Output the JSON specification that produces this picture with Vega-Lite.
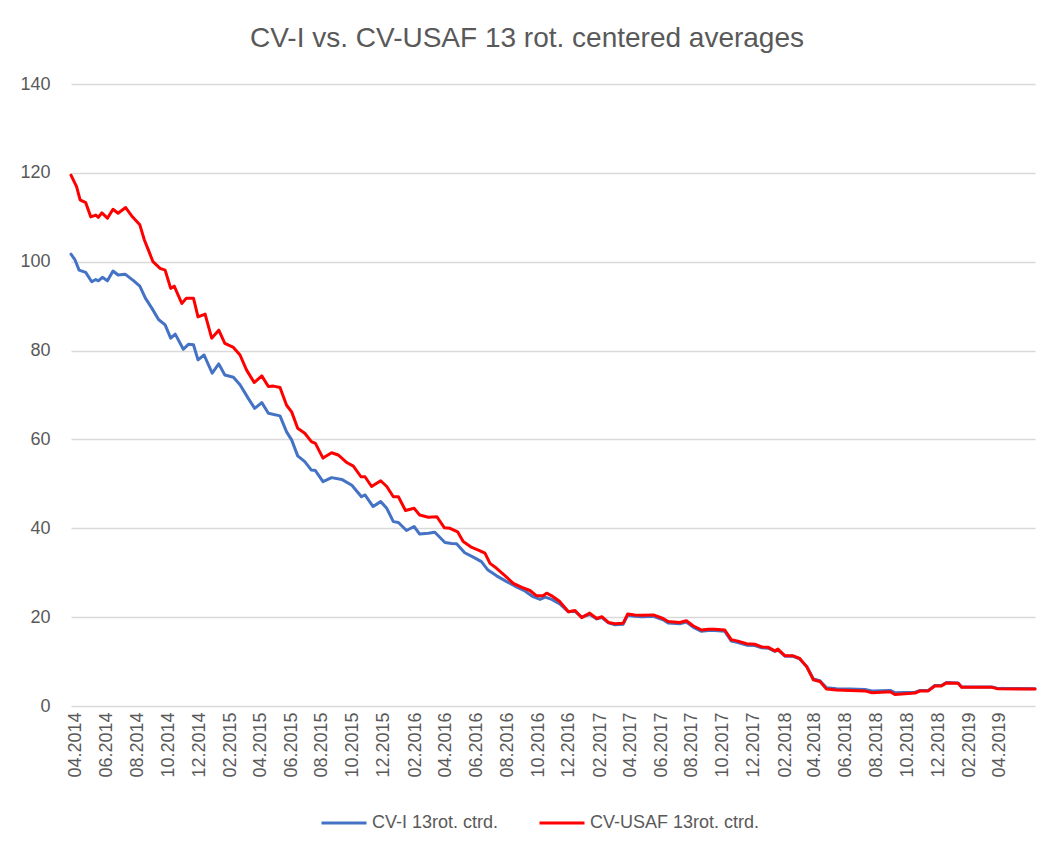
{
  "$schema": "https://vega.github.io/schema/vega-lite/v6.json",
  "width": 964,
  "height": 622,
  "autosize": {"type": "none"},
  "padding": {"left": 71, "top": 84, "right": 14, "bottom": 143},
  "background": "white",
  "title": {
    "text": "CV-I vs. CV-USAF 13 rot. centered averages",
    "font": "Liberation Sans",
    "fontSize": 28,
    "fontWeight": "normal",
    "color": "#595959",
    "anchor": "middle",
    "frame": "group",
    "baseline": "alphabetic",
    "offset": 0,
    "dx": -26
  },
  "config": {
    "view": {"stroke": null},
    "font": "Liberation Sans"
  },
  "data": {
    "values": [
      {"date": "2014-03-23", "series": "CV-I 13rot. ctrd.", "value": 101.7},
      {"date": "2014-03-31", "series": "CV-I 13rot. ctrd.", "value": 100.4},
      {"date": "2014-04-08", "series": "CV-I 13rot. ctrd.", "value": 98.1},
      {"date": "2014-04-21", "series": "CV-I 13rot. ctrd.", "value": 97.6},
      {"date": "2014-05-03", "series": "CV-I 13rot. ctrd.", "value": 95.5},
      {"date": "2014-05-11", "series": "CV-I 13rot. ctrd.", "value": 96.0},
      {"date": "2014-05-16", "series": "CV-I 13rot. ctrd.", "value": 95.7},
      {"date": "2014-05-24", "series": "CV-I 13rot. ctrd.", "value": 96.5},
      {"date": "2014-06-03", "series": "CV-I 13rot. ctrd.", "value": 95.7},
      {"date": "2014-06-14", "series": "CV-I 13rot. ctrd.", "value": 97.9},
      {"date": "2014-06-24", "series": "CV-I 13rot. ctrd.", "value": 97.0},
      {"date": "2014-07-08", "series": "CV-I 13rot. ctrd.", "value": 97.2},
      {"date": "2014-07-25", "series": "CV-I 13rot. ctrd.", "value": 95.7},
      {"date": "2014-08-06", "series": "CV-I 13rot. ctrd.", "value": 94.5},
      {"date": "2014-08-17", "series": "CV-I 13rot. ctrd.", "value": 91.8},
      {"date": "2014-08-30", "series": "CV-I 13rot. ctrd.", "value": 89.5},
      {"date": "2014-09-12", "series": "CV-I 13rot. ctrd.", "value": 87.0},
      {"date": "2014-09-25", "series": "CV-I 13rot. ctrd.", "value": 85.8},
      {"date": "2014-10-06", "series": "CV-I 13rot. ctrd.", "value": 82.8},
      {"date": "2014-10-15", "series": "CV-I 13rot. ctrd.", "value": 83.7},
      {"date": "2014-10-31", "series": "CV-I 13rot. ctrd.", "value": 80.3},
      {"date": "2014-11-10", "series": "CV-I 13rot. ctrd.", "value": 81.4},
      {"date": "2014-11-20", "series": "CV-I 13rot. ctrd.", "value": 81.3},
      {"date": "2014-11-29", "series": "CV-I 13rot. ctrd.", "value": 77.9},
      {"date": "2014-12-11", "series": "CV-I 13rot. ctrd.", "value": 79.0},
      {"date": "2014-12-27", "series": "CV-I 13rot. ctrd.", "value": 74.9},
      {"date": "2015-01-09", "series": "CV-I 13rot. ctrd.", "value": 77.0},
      {"date": "2015-01-21", "series": "CV-I 13rot. ctrd.", "value": 74.5},
      {"date": "2015-02-07", "series": "CV-I 13rot. ctrd.", "value": 74.0},
      {"date": "2015-02-20", "series": "CV-I 13rot. ctrd.", "value": 72.3},
      {"date": "2015-03-08", "series": "CV-I 13rot. ctrd.", "value": 69.3},
      {"date": "2015-03-21", "series": "CV-I 13rot. ctrd.", "value": 67.0},
      {"date": "2015-04-04", "series": "CV-I 13rot. ctrd.", "value": 68.3},
      {"date": "2015-04-17", "series": "CV-I 13rot. ctrd.", "value": 65.9},
      {"date": "2015-05-10", "series": "CV-I 13rot. ctrd.", "value": 65.3},
      {"date": "2015-05-23", "series": "CV-I 13rot. ctrd.", "value": 61.7},
      {"date": "2015-06-02", "series": "CV-I 13rot. ctrd.", "value": 59.9},
      {"date": "2015-06-14", "series": "CV-I 13rot. ctrd.", "value": 56.3},
      {"date": "2015-06-28", "series": "CV-I 13rot. ctrd.", "value": 55.0},
      {"date": "2015-07-11", "series": "CV-I 13rot. ctrd.", "value": 53.1},
      {"date": "2015-07-19", "series": "CV-I 13rot. ctrd.", "value": 53.0},
      {"date": "2015-08-03", "series": "CV-I 13rot. ctrd.", "value": 50.5},
      {"date": "2015-08-20", "series": "CV-I 13rot. ctrd.", "value": 51.4},
      {"date": "2015-09-09", "series": "CV-I 13rot. ctrd.", "value": 51.0},
      {"date": "2015-09-29", "series": "CV-I 13rot. ctrd.", "value": 49.7},
      {"date": "2015-10-18", "series": "CV-I 13rot. ctrd.", "value": 47.1},
      {"date": "2015-10-25", "series": "CV-I 13rot. ctrd.", "value": 47.5},
      {"date": "2015-11-10", "series": "CV-I 13rot. ctrd.", "value": 44.9},
      {"date": "2015-11-25", "series": "CV-I 13rot. ctrd.", "value": 46.0},
      {"date": "2015-12-07", "series": "CV-I 13rot. ctrd.", "value": 44.5},
      {"date": "2015-12-20", "series": "CV-I 13rot. ctrd.", "value": 41.5},
      {"date": "2015-12-30", "series": "CV-I 13rot. ctrd.", "value": 41.3},
      {"date": "2016-01-15", "series": "CV-I 13rot. ctrd.", "value": 39.5},
      {"date": "2016-01-30", "series": "CV-I 13rot. ctrd.", "value": 40.4},
      {"date": "2016-02-10", "series": "CV-I 13rot. ctrd.", "value": 38.7},
      {"date": "2016-02-27", "series": "CV-I 13rot. ctrd.", "value": 38.9},
      {"date": "2016-03-11", "series": "CV-I 13rot. ctrd.", "value": 39.1},
      {"date": "2016-03-31", "series": "CV-I 13rot. ctrd.", "value": 36.8},
      {"date": "2016-04-13", "series": "CV-I 13rot. ctrd.", "value": 36.6},
      {"date": "2016-04-23", "series": "CV-I 13rot. ctrd.", "value": 36.5},
      {"date": "2016-05-09", "series": "CV-I 13rot. ctrd.", "value": 34.5},
      {"date": "2016-05-26", "series": "CV-I 13rot. ctrd.", "value": 33.5},
      {"date": "2016-06-11", "series": "CV-I 13rot. ctrd.", "value": 32.5},
      {"date": "2016-06-24", "series": "CV-I 13rot. ctrd.", "value": 30.6},
      {"date": "2016-07-11", "series": "CV-I 13rot. ctrd.", "value": 29.3},
      {"date": "2016-07-31", "series": "CV-I 13rot. ctrd.", "value": 28.0},
      {"date": "2016-08-16", "series": "CV-I 13rot. ctrd.", "value": 27.0},
      {"date": "2016-09-05", "series": "CV-I 13rot. ctrd.", "value": 25.9},
      {"date": "2016-09-21", "series": "CV-I 13rot. ctrd.", "value": 24.6},
      {"date": "2016-10-05", "series": "CV-I 13rot. ctrd.", "value": 24.0},
      {"date": "2016-10-15", "series": "CV-I 13rot. ctrd.", "value": 24.5},
      {"date": "2016-10-28", "series": "CV-I 13rot. ctrd.", "value": 24.0},
      {"date": "2016-11-13", "series": "CV-I 13rot. ctrd.", "value": 23.0},
      {"date": "2016-11-30", "series": "CV-I 13rot. ctrd.", "value": 21.2},
      {"date": "2016-12-13", "series": "CV-I 13rot. ctrd.", "value": 21.3},
      {"date": "2016-12-26", "series": "CV-I 13rot. ctrd.", "value": 20.0},
      {"date": "2017-01-11", "series": "CV-I 13rot. ctrd.", "value": 20.6},
      {"date": "2017-01-25", "series": "CV-I 13rot. ctrd.", "value": 19.6},
      {"date": "2017-02-04", "series": "CV-I 13rot. ctrd.", "value": 19.9},
      {"date": "2017-02-17", "series": "CV-I 13rot. ctrd.", "value": 18.7},
      {"date": "2017-03-02", "series": "CV-I 13rot. ctrd.", "value": 18.3},
      {"date": "2017-03-18", "series": "CV-I 13rot. ctrd.", "value": 18.4},
      {"date": "2017-03-27", "series": "CV-I 13rot. ctrd.", "value": 20.4},
      {"date": "2017-04-10", "series": "CV-I 13rot. ctrd.", "value": 20.2},
      {"date": "2017-04-24", "series": "CV-I 13rot. ctrd.", "value": 20.1},
      {"date": "2017-05-17", "series": "CV-I 13rot. ctrd.", "value": 20.2},
      {"date": "2017-06-05", "series": "CV-I 13rot. ctrd.", "value": 19.4},
      {"date": "2017-06-15", "series": "CV-I 13rot. ctrd.", "value": 18.7},
      {"date": "2017-07-08", "series": "CV-I 13rot. ctrd.", "value": 18.5},
      {"date": "2017-07-21", "series": "CV-I 13rot. ctrd.", "value": 18.9},
      {"date": "2017-08-04", "series": "CV-I 13rot. ctrd.", "value": 17.7},
      {"date": "2017-08-20", "series": "CV-I 13rot. ctrd.", "value": 16.8},
      {"date": "2017-09-02", "series": "CV-I 13rot. ctrd.", "value": 17.0},
      {"date": "2017-09-15", "series": "CV-I 13rot. ctrd.", "value": 17.0},
      {"date": "2017-10-05", "series": "CV-I 13rot. ctrd.", "value": 16.8},
      {"date": "2017-10-18", "series": "CV-I 13rot. ctrd.", "value": 14.6},
      {"date": "2017-10-31", "series": "CV-I 13rot. ctrd.", "value": 14.3},
      {"date": "2017-11-17", "series": "CV-I 13rot. ctrd.", "value": 13.7},
      {"date": "2017-12-03", "series": "CV-I 13rot. ctrd.", "value": 13.6},
      {"date": "2017-12-17", "series": "CV-I 13rot. ctrd.", "value": 13.1},
      {"date": "2017-12-30", "series": "CV-I 13rot. ctrd.", "value": 13.0},
      {"date": "2018-01-12", "series": "CV-I 13rot. ctrd.", "value": 12.3},
      {"date": "2018-01-18", "series": "CV-I 13rot. ctrd.", "value": 12.6},
      {"date": "2018-02-01", "series": "CV-I 13rot. ctrd.", "value": 11.2},
      {"date": "2018-02-17", "series": "CV-I 13rot. ctrd.", "value": 11.2},
      {"date": "2018-03-02", "series": "CV-I 13rot. ctrd.", "value": 10.6},
      {"date": "2018-03-16", "series": "CV-I 13rot. ctrd.", "value": 8.9},
      {"date": "2018-03-29", "series": "CV-I 13rot. ctrd.", "value": 6.1},
      {"date": "2018-04-11", "series": "CV-I 13rot. ctrd.", "value": 5.7},
      {"date": "2018-04-24", "series": "CV-I 13rot. ctrd.", "value": 4.1},
      {"date": "2018-05-14", "series": "CV-I 13rot. ctrd.", "value": 3.9},
      {"date": "2018-06-09", "series": "CV-I 13rot. ctrd.", "value": 3.8},
      {"date": "2018-07-09", "series": "CV-I 13rot. ctrd.", "value": 3.7},
      {"date": "2018-07-23", "series": "CV-I 13rot. ctrd.", "value": 3.4},
      {"date": "2018-08-28", "series": "CV-I 13rot. ctrd.", "value": 3.5},
      {"date": "2018-09-06", "series": "CV-I 13rot. ctrd.", "value": 3.0},
      {"date": "2018-10-16", "series": "CV-I 13rot. ctrd.", "value": 3.1},
      {"date": "2018-10-26", "series": "CV-I 13rot. ctrd.", "value": 3.5},
      {"date": "2018-11-11", "series": "CV-I 13rot. ctrd.", "value": 3.5},
      {"date": "2018-11-24", "series": "CV-I 13rot. ctrd.", "value": 4.6},
      {"date": "2018-12-07", "series": "CV-I 13rot. ctrd.", "value": 4.6},
      {"date": "2018-12-17", "series": "CV-I 13rot. ctrd.", "value": 5.3},
      {"date": "2019-01-09", "series": "CV-I 13rot. ctrd.", "value": 5.2},
      {"date": "2019-01-16", "series": "CV-I 13rot. ctrd.", "value": 4.3},
      {"date": "2019-03-17", "series": "CV-I 13rot. ctrd.", "value": 4.3},
      {"date": "2019-03-27", "series": "CV-I 13rot. ctrd.", "value": 4.0},
      {"date": "2019-06-10", "series": "CV-I 13rot. ctrd.", "value": 3.9},
      {"date": "2014-03-23", "series": "CV-USAF 13rot. ctrd.", "value": 119.5},
      {"date": "2014-04-03", "series": "CV-USAF 13rot. ctrd.", "value": 116.9},
      {"date": "2014-04-10", "series": "CV-USAF 13rot. ctrd.", "value": 113.9},
      {"date": "2014-04-21", "series": "CV-USAF 13rot. ctrd.", "value": 113.3},
      {"date": "2014-05-01", "series": "CV-USAF 13rot. ctrd.", "value": 110.1},
      {"date": "2014-05-11", "series": "CV-USAF 13rot. ctrd.", "value": 110.5},
      {"date": "2014-05-16", "series": "CV-USAF 13rot. ctrd.", "value": 110.0},
      {"date": "2014-05-23", "series": "CV-USAF 13rot. ctrd.", "value": 111.0},
      {"date": "2014-06-03", "series": "CV-USAF 13rot. ctrd.", "value": 109.8},
      {"date": "2014-06-14", "series": "CV-USAF 13rot. ctrd.", "value": 111.8},
      {"date": "2014-06-24", "series": "CV-USAF 13rot. ctrd.", "value": 110.9},
      {"date": "2014-07-09", "series": "CV-USAF 13rot. ctrd.", "value": 112.2},
      {"date": "2014-07-21", "series": "CV-USAF 13rot. ctrd.", "value": 110.3},
      {"date": "2014-08-06", "series": "CV-USAF 13rot. ctrd.", "value": 108.3},
      {"date": "2014-08-15", "series": "CV-USAF 13rot. ctrd.", "value": 104.9},
      {"date": "2014-08-23", "series": "CV-USAF 13rot. ctrd.", "value": 102.6},
      {"date": "2014-09-01", "series": "CV-USAF 13rot. ctrd.", "value": 100.0},
      {"date": "2014-09-15", "series": "CV-USAF 13rot. ctrd.", "value": 98.5},
      {"date": "2014-09-25", "series": "CV-USAF 13rot. ctrd.", "value": 98.1},
      {"date": "2014-10-06", "series": "CV-USAF 13rot. ctrd.", "value": 94.0},
      {"date": "2014-10-13", "series": "CV-USAF 13rot. ctrd.", "value": 94.5},
      {"date": "2014-10-28", "series": "CV-USAF 13rot. ctrd.", "value": 90.6},
      {"date": "2014-11-06", "series": "CV-USAF 13rot. ctrd.", "value": 91.8},
      {"date": "2014-11-20", "series": "CV-USAF 13rot. ctrd.", "value": 91.8},
      {"date": "2014-11-29", "series": "CV-USAF 13rot. ctrd.", "value": 87.6},
      {"date": "2014-12-13", "series": "CV-USAF 13rot. ctrd.", "value": 88.2},
      {"date": "2014-12-26", "series": "CV-USAF 13rot. ctrd.", "value": 82.8},
      {"date": "2015-01-09", "series": "CV-USAF 13rot. ctrd.", "value": 84.6},
      {"date": "2015-01-21", "series": "CV-USAF 13rot. ctrd.", "value": 81.6},
      {"date": "2015-02-07", "series": "CV-USAF 13rot. ctrd.", "value": 80.7},
      {"date": "2015-02-20", "series": "CV-USAF 13rot. ctrd.", "value": 79.0},
      {"date": "2015-03-05", "series": "CV-USAF 13rot. ctrd.", "value": 75.6},
      {"date": "2015-03-20", "series": "CV-USAF 13rot. ctrd.", "value": 72.8},
      {"date": "2015-04-04", "series": "CV-USAF 13rot. ctrd.", "value": 74.3},
      {"date": "2015-04-17", "series": "CV-USAF 13rot. ctrd.", "value": 71.9},
      {"date": "2015-04-27", "series": "CV-USAF 13rot. ctrd.", "value": 72.0},
      {"date": "2015-05-10", "series": "CV-USAF 13rot. ctrd.", "value": 71.7},
      {"date": "2015-05-23", "series": "CV-USAF 13rot. ctrd.", "value": 67.7},
      {"date": "2015-06-02", "series": "CV-USAF 13rot. ctrd.", "value": 66.2},
      {"date": "2015-06-14", "series": "CV-USAF 13rot. ctrd.", "value": 62.5},
      {"date": "2015-06-28", "series": "CV-USAF 13rot. ctrd.", "value": 61.4},
      {"date": "2015-07-11", "series": "CV-USAF 13rot. ctrd.", "value": 59.5},
      {"date": "2015-07-19", "series": "CV-USAF 13rot. ctrd.", "value": 59.1},
      {"date": "2015-08-03", "series": "CV-USAF 13rot. ctrd.", "value": 55.8},
      {"date": "2015-08-20", "series": "CV-USAF 13rot. ctrd.", "value": 57.0},
      {"date": "2015-09-02", "series": "CV-USAF 13rot. ctrd.", "value": 56.5},
      {"date": "2015-09-19", "series": "CV-USAF 13rot. ctrd.", "value": 54.8},
      {"date": "2015-10-02", "series": "CV-USAF 13rot. ctrd.", "value": 54.0},
      {"date": "2015-10-17", "series": "CV-USAF 13rot. ctrd.", "value": 51.6},
      {"date": "2015-10-25", "series": "CV-USAF 13rot. ctrd.", "value": 51.6},
      {"date": "2015-11-07", "series": "CV-USAF 13rot. ctrd.", "value": 49.4},
      {"date": "2015-11-25", "series": "CV-USAF 13rot. ctrd.", "value": 50.7},
      {"date": "2015-12-07", "series": "CV-USAF 13rot. ctrd.", "value": 49.4},
      {"date": "2015-12-20", "series": "CV-USAF 13rot. ctrd.", "value": 47.1},
      {"date": "2015-12-30", "series": "CV-USAF 13rot. ctrd.", "value": 47.1},
      {"date": "2016-01-13", "series": "CV-USAF 13rot. ctrd.", "value": 44.0},
      {"date": "2016-01-30", "series": "CV-USAF 13rot. ctrd.", "value": 44.5},
      {"date": "2016-02-10", "series": "CV-USAF 13rot. ctrd.", "value": 43.0},
      {"date": "2016-02-27", "series": "CV-USAF 13rot. ctrd.", "value": 42.5},
      {"date": "2016-03-15", "series": "CV-USAF 13rot. ctrd.", "value": 42.6},
      {"date": "2016-03-30", "series": "CV-USAF 13rot. ctrd.", "value": 40.1},
      {"date": "2016-04-10", "series": "CV-USAF 13rot. ctrd.", "value": 40.0},
      {"date": "2016-04-25", "series": "CV-USAF 13rot. ctrd.", "value": 39.2},
      {"date": "2016-05-06", "series": "CV-USAF 13rot. ctrd.", "value": 37.0},
      {"date": "2016-05-23", "series": "CV-USAF 13rot. ctrd.", "value": 35.7},
      {"date": "2016-06-05", "series": "CV-USAF 13rot. ctrd.", "value": 35.1},
      {"date": "2016-06-18", "series": "CV-USAF 13rot. ctrd.", "value": 34.4},
      {"date": "2016-06-28", "series": "CV-USAF 13rot. ctrd.", "value": 32.1},
      {"date": "2016-07-11", "series": "CV-USAF 13rot. ctrd.", "value": 31.0},
      {"date": "2016-07-28", "series": "CV-USAF 13rot. ctrd.", "value": 29.3},
      {"date": "2016-08-13", "series": "CV-USAF 13rot. ctrd.", "value": 27.6},
      {"date": "2016-08-30", "series": "CV-USAF 13rot. ctrd.", "value": 26.7},
      {"date": "2016-09-15", "series": "CV-USAF 13rot. ctrd.", "value": 26.0},
      {"date": "2016-09-28", "series": "CV-USAF 13rot. ctrd.", "value": 24.8},
      {"date": "2016-10-11", "series": "CV-USAF 13rot. ctrd.", "value": 24.8},
      {"date": "2016-10-18", "series": "CV-USAF 13rot. ctrd.", "value": 25.4},
      {"date": "2016-10-28", "series": "CV-USAF 13rot. ctrd.", "value": 24.8},
      {"date": "2016-11-13", "series": "CV-USAF 13rot. ctrd.", "value": 23.5},
      {"date": "2016-11-30", "series": "CV-USAF 13rot. ctrd.", "value": 21.2},
      {"date": "2016-12-13", "series": "CV-USAF 13rot. ctrd.", "value": 21.5},
      {"date": "2016-12-26", "series": "CV-USAF 13rot. ctrd.", "value": 19.9},
      {"date": "2017-01-11", "series": "CV-USAF 13rot. ctrd.", "value": 20.9},
      {"date": "2017-01-25", "series": "CV-USAF 13rot. ctrd.", "value": 19.7},
      {"date": "2017-02-04", "series": "CV-USAF 13rot. ctrd.", "value": 20.1},
      {"date": "2017-02-17", "series": "CV-USAF 13rot. ctrd.", "value": 18.8},
      {"date": "2017-03-02", "series": "CV-USAF 13rot. ctrd.", "value": 18.5},
      {"date": "2017-03-18", "series": "CV-USAF 13rot. ctrd.", "value": 18.6},
      {"date": "2017-03-27", "series": "CV-USAF 13rot. ctrd.", "value": 20.7},
      {"date": "2017-04-10", "series": "CV-USAF 13rot. ctrd.", "value": 20.5},
      {"date": "2017-04-24", "series": "CV-USAF 13rot. ctrd.", "value": 20.4},
      {"date": "2017-05-17", "series": "CV-USAF 13rot. ctrd.", "value": 20.5},
      {"date": "2017-06-05", "series": "CV-USAF 13rot. ctrd.", "value": 19.7},
      {"date": "2017-06-15", "series": "CV-USAF 13rot. ctrd.", "value": 19.0},
      {"date": "2017-07-08", "series": "CV-USAF 13rot. ctrd.", "value": 18.8},
      {"date": "2017-07-21", "series": "CV-USAF 13rot. ctrd.", "value": 19.2},
      {"date": "2017-08-04", "series": "CV-USAF 13rot. ctrd.", "value": 18.0},
      {"date": "2017-08-20", "series": "CV-USAF 13rot. ctrd.", "value": 17.1},
      {"date": "2017-09-02", "series": "CV-USAF 13rot. ctrd.", "value": 17.3},
      {"date": "2017-09-15", "series": "CV-USAF 13rot. ctrd.", "value": 17.3},
      {"date": "2017-10-05", "series": "CV-USAF 13rot. ctrd.", "value": 17.1},
      {"date": "2017-10-18", "series": "CV-USAF 13rot. ctrd.", "value": 14.9},
      {"date": "2017-10-31", "series": "CV-USAF 13rot. ctrd.", "value": 14.6},
      {"date": "2017-11-17", "series": "CV-USAF 13rot. ctrd.", "value": 14.0},
      {"date": "2017-12-03", "series": "CV-USAF 13rot. ctrd.", "value": 13.9},
      {"date": "2017-12-17", "series": "CV-USAF 13rot. ctrd.", "value": 13.3},
      {"date": "2017-12-30", "series": "CV-USAF 13rot. ctrd.", "value": 13.2},
      {"date": "2018-01-12", "series": "CV-USAF 13rot. ctrd.", "value": 12.4},
      {"date": "2018-01-18", "series": "CV-USAF 13rot. ctrd.", "value": 12.8},
      {"date": "2018-02-01", "series": "CV-USAF 13rot. ctrd.", "value": 11.3},
      {"date": "2018-02-17", "series": "CV-USAF 13rot. ctrd.", "value": 11.3},
      {"date": "2018-03-02", "series": "CV-USAF 13rot. ctrd.", "value": 10.7},
      {"date": "2018-03-16", "series": "CV-USAF 13rot. ctrd.", "value": 8.8},
      {"date": "2018-03-29", "series": "CV-USAF 13rot. ctrd.", "value": 5.9},
      {"date": "2018-04-11", "series": "CV-USAF 13rot. ctrd.", "value": 5.5},
      {"date": "2018-04-24", "series": "CV-USAF 13rot. ctrd.", "value": 3.8},
      {"date": "2018-05-14", "series": "CV-USAF 13rot. ctrd.", "value": 3.6},
      {"date": "2018-06-09", "series": "CV-USAF 13rot. ctrd.", "value": 3.5},
      {"date": "2018-07-09", "series": "CV-USAF 13rot. ctrd.", "value": 3.4},
      {"date": "2018-07-23", "series": "CV-USAF 13rot. ctrd.", "value": 3.0},
      {"date": "2018-08-28", "series": "CV-USAF 13rot. ctrd.", "value": 3.2},
      {"date": "2018-09-06", "series": "CV-USAF 13rot. ctrd.", "value": 2.6},
      {"date": "2018-10-16", "series": "CV-USAF 13rot. ctrd.", "value": 2.9},
      {"date": "2018-10-26", "series": "CV-USAF 13rot. ctrd.", "value": 3.4},
      {"date": "2018-11-11", "series": "CV-USAF 13rot. ctrd.", "value": 3.4},
      {"date": "2018-11-24", "series": "CV-USAF 13rot. ctrd.", "value": 4.5},
      {"date": "2018-12-07", "series": "CV-USAF 13rot. ctrd.", "value": 4.5},
      {"date": "2018-12-17", "series": "CV-USAF 13rot. ctrd.", "value": 5.2},
      {"date": "2019-01-09", "series": "CV-USAF 13rot. ctrd.", "value": 5.1},
      {"date": "2019-01-16", "series": "CV-USAF 13rot. ctrd.", "value": 4.2},
      {"date": "2019-03-17", "series": "CV-USAF 13rot. ctrd.", "value": 4.2},
      {"date": "2019-03-27", "series": "CV-USAF 13rot. ctrd.", "value": 3.9},
      {"date": "2019-06-10", "series": "CV-USAF 13rot. ctrd.", "value": 3.8}
    ]
  },
  "mark": {"type": "line", "strokeWidth": 3, "strokeJoin": "round", "strokeCap": "round"},
  "encoding": {
    "x": {
      "field": "date",
      "type": "temporal",
      "scale": {
        "type": "utc",
        "domain": [
          {"year": 2014, "month": 3, "date": 23, "utc": true},
          {"year": 2019, "month": 6, "date": 10, "utc": true}
        ],
        "nice": false
      },
      "axis": {
        "title": null,
        "values": [
          {"year": 2014, "month": 4, "date": 1, "utc": true},
          {"year": 2014, "month": 6, "date": 1, "utc": true},
          {"year": 2014, "month": 8, "date": 1, "utc": true},
          {"year": 2014, "month": 10, "date": 1, "utc": true},
          {"year": 2014, "month": 12, "date": 1, "utc": true},
          {"year": 2015, "month": 2, "date": 1, "utc": true},
          {"year": 2015, "month": 4, "date": 1, "utc": true},
          {"year": 2015, "month": 6, "date": 1, "utc": true},
          {"year": 2015, "month": 8, "date": 1, "utc": true},
          {"year": 2015, "month": 10, "date": 1, "utc": true},
          {"year": 2015, "month": 12, "date": 1, "utc": true},
          {"year": 2016, "month": 2, "date": 1, "utc": true},
          {"year": 2016, "month": 4, "date": 1, "utc": true},
          {"year": 2016, "month": 6, "date": 1, "utc": true},
          {"year": 2016, "month": 8, "date": 1, "utc": true},
          {"year": 2016, "month": 10, "date": 1, "utc": true},
          {"year": 2016, "month": 12, "date": 1, "utc": true},
          {"year": 2017, "month": 2, "date": 1, "utc": true},
          {"year": 2017, "month": 4, "date": 1, "utc": true},
          {"year": 2017, "month": 6, "date": 1, "utc": true},
          {"year": 2017, "month": 8, "date": 1, "utc": true},
          {"year": 2017, "month": 10, "date": 1, "utc": true},
          {"year": 2017, "month": 12, "date": 1, "utc": true},
          {"year": 2018, "month": 2, "date": 1, "utc": true},
          {"year": 2018, "month": 4, "date": 1, "utc": true},
          {"year": 2018, "month": 6, "date": 1, "utc": true},
          {"year": 2018, "month": 8, "date": 1, "utc": true},
          {"year": 2018, "month": 10, "date": 1, "utc": true},
          {"year": 2018, "month": 12, "date": 1, "utc": true},
          {"year": 2019, "month": 2, "date": 1, "utc": true},
          {"year": 2019, "month": 4, "date": 1, "utc": true}
        ],
        "labelExpr": "utcFormat(datum.value, '%m.%Y')",
        "labelAngle": 270,
        "labelFontSize": 18,
        "labelFont": "Liberation Sans",
        "labelColor": "#595959",
        "labelPadding": 6,
        "labelOverlap": false,
        "labelFlush": false,
        "ticks": false,
        "tickSize": 0,
        "grid": false,
        "domain": false
      }
    },
    "y": {
      "field": "value",
      "type": "quantitative",
      "scale": {"domain": [0, 140], "nice": false},
      "axis": {
        "title": null,
        "values": [0, 20, 40, 60, 80, 100, 120, 140],
        "labelFontSize": 18,
        "labelFont": "Liberation Sans",
        "labelColor": "#595959",
        "labelPadding": 21,
        "ticks": false,
        "tickSize": 0,
        "domain": false,
        "grid": true,
        "gridColor": "#d9d9d9",
        "gridWidth": 1.3
      }
    },
    "color": {
      "field": "series",
      "type": "nominal",
      "scale": {
        "domain": ["CV-I 13rot. ctrd.", "CV-USAF 13rot. ctrd."],
        "range": ["#4472C4", "#FF0000"]
      },
      "legend": {
        "title": null,
        "orient": "none",
        "direction": "horizontal",
        "legendX": 249,
        "legendY": 715,
        "padding": 0,
        "symbolType": "stroke",
        "symbolSize": 2025,
        "symbolStrokeWidth": 3,
        "labelFontSize": 18,
        "labelFont": "Liberation Sans",
        "labelColor": "#595959",
        "labelOffset": 4,
        "labelLimit": 0,
        "columnPadding": 34
      }
    }
  }
}
